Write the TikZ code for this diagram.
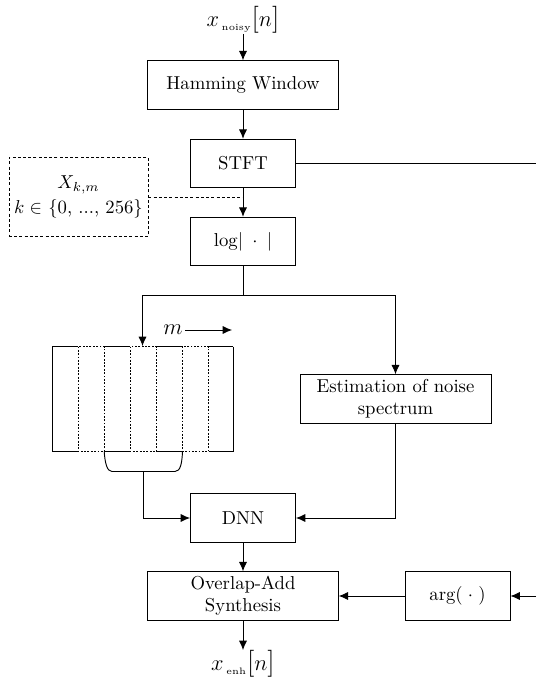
\documentclass[tikz,border=0pt]{standalone}
\usepackage{amsmath}
\usetikzlibrary{arrows.meta,calc}
\begin{document}
\begin{tikzpicture}[x=0.535pt,y=-0.535pt,line width=0.5pt,
  >={Latex[length=5pt,width=4.4pt]},
  blk/.style={draw,rectangle,align=center,inner sep=1pt,minimum height=25.95pt},
  wide/.style={blk,minimum width=101.9pt},
  narrow/.style={blk,minimum width=56.2pt},
  dsh/.style={dash pattern=on 1.6pt off 1.2pt},
  fdsh/.style={dash pattern=on 1pt off 0.8pt},
  lbl/.style={inner sep=0pt}]
\useasboundingbox (0,0) rectangle (536,677);

% blocks
\node[lbl] (xin) at (243,20) {\large$x_{\,\text{\tiny noisy}}\text{\Large[}n\text{\Large]}$};
\node[wide] (ham) at (243,85) {Hamming Window};
\node[narrow] (stft) at (243,163.5) {STFT};
\node[narrow] (log) at (243,241.5) {log$|\;\cdot\;|$};
\node[draw,dsh,align=center,minimum width=74.4pt,minimum height=42.3pt,inner sep=1pt] (xkm) at (78.5,197)
  {$X_{k,m}$\\[1pt] $k\in$ \{0, ..., 256\}};
\node[blk,minimum width=102.2pt] (est) at (395.5,399) {Estimation of noise\\spectrum};
\node[narrow] (dnn) at (243,518) {DNN};
\node[wide] (ola) at (243,596) {Overlap-Add\\Synthesis};
\node[narrow] (arg) at (457.5,596) {arg$(\;\cdot\;)$};
\node[lbl] (xout) at (243,664) {\large$x_{\,\text{\tiny enh}}\text{\Large[}n\text{\Large]}$};

% spectrogram frame area
\node[minimum width=96.8pt,minimum height=56.2pt,inner sep=0pt] (spec) at (142.5,399) {};
\draw (52,346.5) -- (52,451.5);
\draw (233,346.5) -- (233,451.5);
\foreach \a/\b in {52/78.1,104.2/130.3,156.4/182.5,208.6/233}{
  \draw (\a,346.5) -- (\b,346.5);
  \draw (\a,451.5) -- (\b,451.5);
}
\foreach \a/\b in {78.1/104.2,130.3/156.4,182.5/208.6}{
  \draw[fdsh] (\a,346.5) rectangle (\b,451.5);
}
% brace below
\coordinate (bm) at (143,471.5);
\draw (104.2,451.5) .. controls (105,463) and (107,471.5) .. (112,471.5) -- (175,471.5)
  .. controls (180.5,471.5) and (182,463) .. (182.5,451.5);

% m label
\node[lbl] (mlbl) at (173,330) {\large$m$};
\coordinate (mend) at (232,330);
\draw[->] ([xshift=1pt]mlbl.east) -- (mend);

% connectors
\coordinate (split) at (243,295);
\coordinate (dj) at (243,197);
\coordinate (stftout) at (536,163.5);
\coordinate (argin) at (536,596);
\draw[->] (xin) -- (ham);
\draw[->] (ham) -- (stft);
\draw[->] (stft) -- (log);
\draw (stft.east) -- (stftout);
\draw[dsh] (xkm.east |- dj) -- (dj);
\draw (log.south) -- (split);
\draw[->] (split) -| (spec.north);
\draw[->] (split) -| (est.north);
\draw[->] (bm) |- (dnn.west);
\draw[->] (est.south) |- (dnn.east);
\draw[->] (dnn) -- (ola);
\draw[->] (arg) -- (ola);
\draw[->] (argin) -- (arg.east);
\draw[->] (ola) -- (xout);
\end{tikzpicture}
\end{document}
